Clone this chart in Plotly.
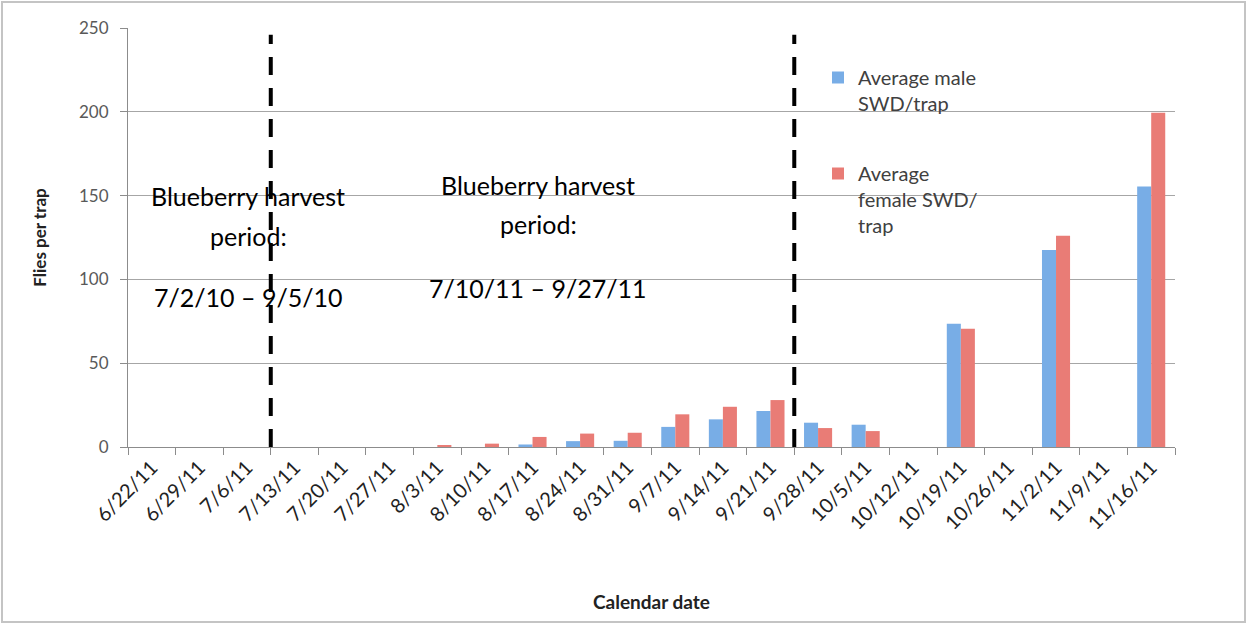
import plotly.graph_objects as go

dates = ["6/22/11", "6/29/11", "7/6/11", "7/13/11", "7/20/11", "7/27/11", "8/3/11",
         "8/10/11", "8/17/11", "8/24/11", "8/31/11", "9/7/11", "9/14/11", "9/21/11",
         "9/28/11", "10/5/11", "10/12/11", "10/19/11", "10/26/11", "11/2/11", "11/9/11",
         "11/16/11"]
male = [0, 0, 0, 0, 0, 0, 0, 0, 1.5, 3.5, 3.7, 12, 16.5, 21.5,
        14.5, 13.3, 0, 73.5, 0, 117.5, 0, 155.5]
female = [0, 0, 0, 0, 0, 0, 1, 2, 6, 8, 8.5, 19.5, 24, 28,
          11.3, 9.5, 0, 70.5, 0, 126, 0, 199.5]
harvest_lines = [2.5, 13.5]
harvest_2010 = ["Blueberry harvest", "period:", "7/2/10 – 9/5/10"]
harvest_2011 = ["Blueberry harvest", "period:", "7/10/11 – 9/27/11"]

W, H = 1247, 624
L, R, T, B = 128, 72, 28, 177
PW, PH = W - L - R, H - T - B
FONT = "Lato"


def px(xp):
    return (xp - L) / PW


def py(yp):
    return (H - B - yp) / PH


fig = go.Figure()
fig.add_trace(go.Bar(x=dates, y=male, name="Average male<br>SWD/trap",
                     marker=dict(color="#78ade6", line=dict(width=0)),
                     legendgroup="m"))
fig.add_trace(go.Bar(x=dates, y=female, name="Average<br>female SWD/<br>trap",
                     marker=dict(color="#e97c76", line=dict(width=0)),
                     legendgroup="f"))

shapes = []
# outer frame
shapes.append(dict(type="rect", xref="paper", yref="paper",
                   x0=px(2), x1=px(1245), y0=py(622), y1=py(2),
                   line=dict(color="#c4c4c4", width=2), layer="above"))
# legend background covering gridlines
shapes.append(dict(type="rect", xref="paper", yref="paper",
                   x0=px(825), x1=px(993), y0=py(250), y1=py(50),
                   fillcolor="white", line=dict(width=0), layer="between"))
for xv in harvest_lines:
    shapes.append(dict(type="line", xref="x", yref="y", x0=xv, x1=xv, y0=0, y1=246,
                       line=dict(color="black", width=4, dash="18px,13px"),
                       layer="above"))

annotations = []
for text, xp, yp in zip(harvest_2010, [248, 248, 248], [196, 236, 297]):
    annotations.append(dict(text=text, xref="paper", yref="paper", x=px(xp), y=py(yp),
                            xanchor="center", yanchor="middle", showarrow=False,
                            font=dict(family=FONT, size=25, color="black")))
for text, xp, yp in zip(harvest_2011, [538, 538, 538], [185, 224, 288]):
    annotations.append(dict(text=text, xref="paper", yref="paper", x=px(xp), y=py(yp),
                            xanchor="center", yanchor="middle", showarrow=False,
                            font=dict(family=FONT, size=25, color="black")))

fig.update_layout(
    width=W, height=H,
    margin=dict(l=L, r=R, t=T, b=B),
    paper_bgcolor="white", plot_bgcolor="white",
    barmode="group", bargap=0.41, bargroupgap=0,
    font=dict(family=FONT, color="#404040"),
    showlegend=True,
    legend=dict(x=px(818), y=py(58), xanchor="left", yanchor="top",
                bgcolor="rgba(0,0,0,0)", borderwidth=0, valign="top",
                tracegroupgap=41, traceorder="grouped",
                font=dict(family=FONT, size=20, color="#404040")),
    shapes=shapes,
    annotations=annotations,
    xaxis=dict(type="category", showgrid=False, showline=True, linecolor="#8c8c8c",
               linewidth=1, ticks="outside", tickson="boundaries", ticklen=7,
               tickcolor="#8c8c8c", tickangle=-45,
               tickfont=dict(family=FONT, size=20, color="#222222"),
               title=dict(text="<b>Calendar date</b>", standoff=62,
                          font=dict(family=FONT, size=19, color="#222222")),
               range=[-0.5, 21.5]),
    yaxis=dict(range=[0, 250], dtick=50, showgrid=True, gridcolor="#a6a6a6",
               gridwidth=1, showline=True, linecolor="#8c8c8c", linewidth=1,
               ticks="outside", ticklen=7, tickcolor="#8c8c8c",
               ticklabelstandoff=8, zeroline=False,
               tickfont=dict(family=FONT, size=17, color="#595959"),
               title=dict(text="<b>Flies per trap</b>", standoff=28,
                          font=dict(family=FONT, size=17, color="#222222"))),
)

fig.write_html("out.html", config={"displayModeBar": False},
               post_script="document.body.style.margin='0';")
